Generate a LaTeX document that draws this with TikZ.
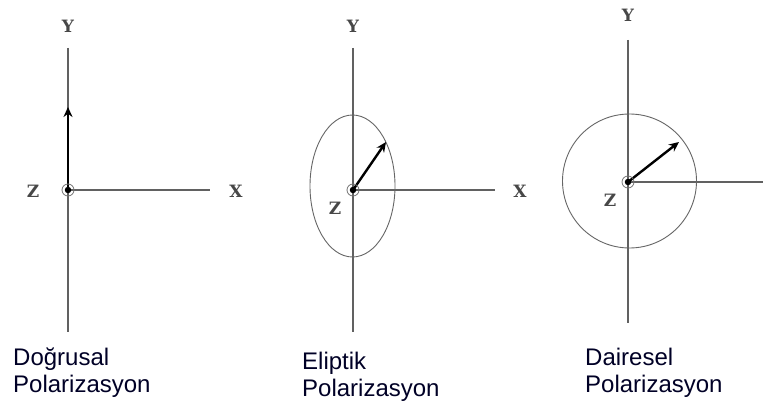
\documentclass[tikz,border=0pt]{standalone}
\usepackage{fontspec}
\setmainfont{Liberation Sans}
\newfontfamily\axfont{DejaVu Serif}
\usetikzlibrary{arrows.meta}
\begin{document}
\begin{tikzpicture}[x=1pt,y=-1pt,
  axis/.style={draw=black!62, line width=1.4pt},
  orbit/.style={draw=black!60, line width=0.9pt},
  vec/.style={draw=black, line width=2.4pt, -{Stealth[length=10pt,width=9pt]}},
  axlabel/.style={font=\axfont\bfseries\fontsize{17}{17}\selectfont, text=black!72, inner sep=0pt},
  caption/.style={font=\fontsize{24}{27}\selectfont, align=left, anchor=north west, inner sep=0pt, text=black!85!blue},
  ring/.style={circle, draw=black!55, line width=0.8pt, minimum size=12pt, inner sep=0pt},
  dot/.style={circle, fill=black, minimum size=6.5pt, inner sep=0pt}]
\useasboundingbox[fill=white] (0,0) rectangle (763,409);

% ---- Panel 1: linear
\coordinate (o1) at (68,190);
\coordinate (y1t) at (68,48);
\coordinate (y1b) at (68,332);
\coordinate (x1e) at (210,190);
\coordinate (v1) at (68,107);
\draw[axis] (y1t) -- (y1b);
\draw[axis] (o1) -- (x1e);
\draw[vec] (o1) -- (v1);
\node[ring] (r1) at (o1) {};
\node[dot] (d1) at (o1) {};
\node[axlabel] (Y1) at (68,26) {Y};
\node[axlabel] (X1) at (236,191) {X};
\node[axlabel] (Z1) at (33,191) {Z};
\node[caption] (c1) at (13,348) {Doğrusal\\Polarizasyon};

% ---- Panel 2: elliptic
\coordinate (o2) at (353,190);
\coordinate (y2t) at (353,48);
\coordinate (y2b) at (353,332);
\coordinate (x2e) at (495,190);
\coordinate (v2) at (386,142);
\draw[axis] (y2t) -- (y2b);
\draw[axis] (o2) -- (x2e);
\draw[orbit] (352.5,186) ellipse [x radius=42.5, y radius=71];
\draw[vec] (o2) -- (v2);
\node[ring] (r2) at (o2) {};
\node[dot] (d2) at (o2) {};
\node[axlabel] (Y2) at (353,26) {Y};
\node[axlabel] (X2) at (520,191) {X};
\node[axlabel] (Z2) at (335,208) {Z};
\node[caption] (c2) at (302,352) {Eliptik\\Polarizasyon};

% ---- Panel 3: circular
\coordinate (o3) at (628,182);
\coordinate (y3t) at (628,40);
\coordinate (y3b) at (628,323);
\coordinate (x3e) at (763,182);
\coordinate (v3) at (679,142);
\draw[axis] (y3t) -- (y3b);
\draw[axis] (o3) -- (x3e);
\draw[orbit] (629.5,181) circle [radius=67];
\draw[vec] (o3) -- (v3);
\node[ring] (r3) at (o3) {};
\node[dot] (d3) at (o3) {};
\node[axlabel] (Y3) at (628,15) {Y};
\node[axlabel] (Z3) at (610,200) {Z};
\node[caption] (c3) at (585,348) {Dairesel\\Polarizasyon};
\end{tikzpicture}
\end{document}
